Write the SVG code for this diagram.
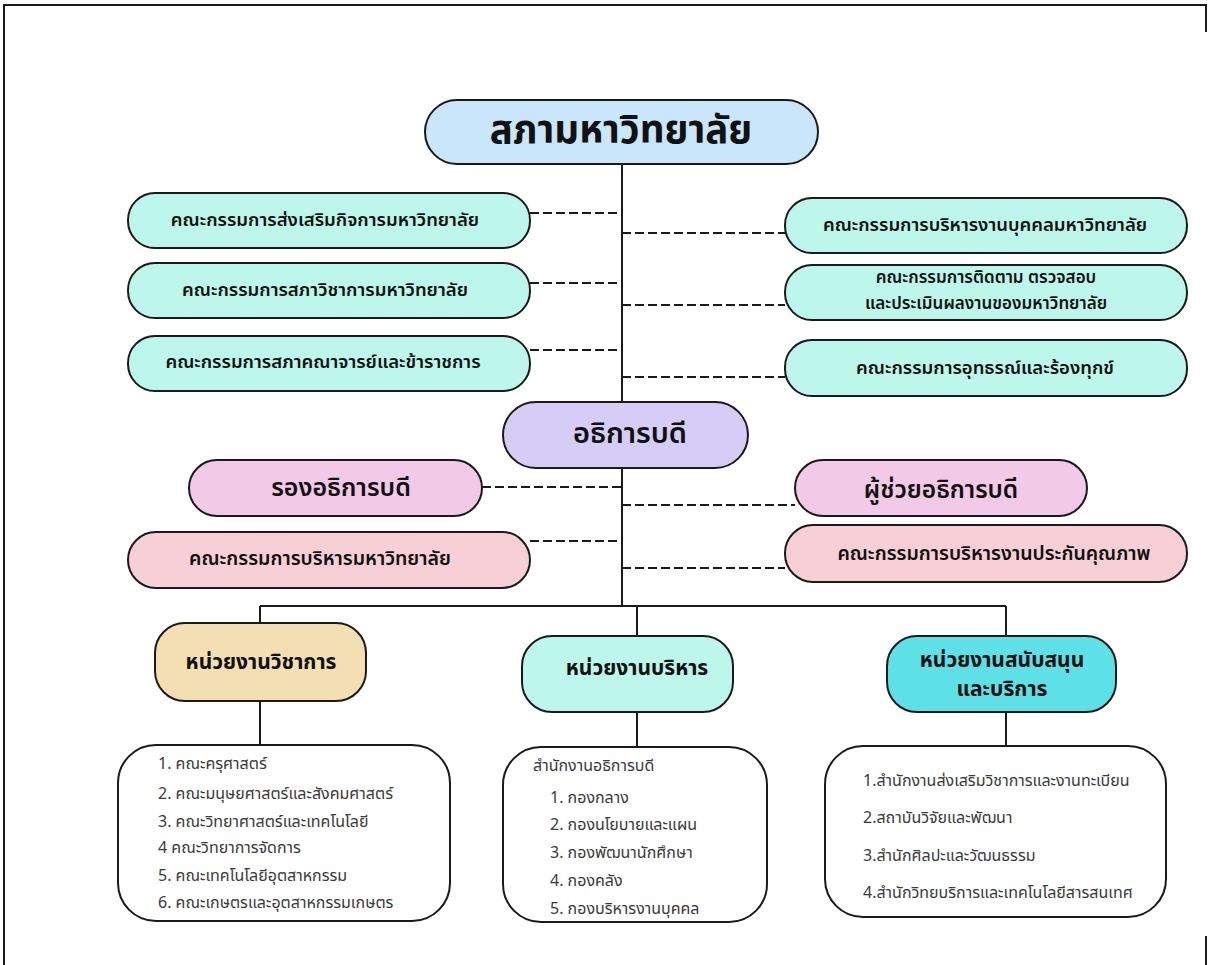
<svg xmlns="http://www.w3.org/2000/svg" width="1208" height="965" viewBox="0 0 1208 965">
<style>
.box{stroke:#1a1a1a;stroke-width:2}
.t{font-family:"Noto Sans Thai","Noto Sans","Loma","Garuda",sans-serif;fill:#111;text-anchor:middle;dominant-baseline:central}
.c{font-size:18.5px;font-weight:600}
.c2{font-size:19.5px;font-weight:600}
.c3{font-size:17px;font-weight:600}
.l{font-family:"Noto Sans Thai","Noto Sans","Loma",sans-serif;fill:#3a3a3a;font-size:16px}
.solid{stroke:#1a1a1a;stroke-width:2;fill:none}
.dash{stroke:#1a1a1a;stroke-width:2;fill:none;stroke-dasharray:9 4}
.mint{fill:#bdf6ea}
.u{font-size:21px;font-weight:700}
</style>
<rect width="1208" height="965" fill="#fff"/>
<g id="frame">
<path d="M4 965 V5 H1206 V32" class="solid" stroke-width="2.5"/>
<path d="M1206 936 V965" class="solid"/>
</g>
<g id="connectors">
<path class="solid" d="M622 164 V606 M260 606 H1006 M260 606 V623 M637 606 V636 M1006 606 V636 M260 701 V745 M637 712 V747 M1006 712 V746"/>
<path class="dash" d="M530 213 H622 M530 283 H622 M530 350 H622 M622 233 H785 M622 305 H785 M622 377 H785 M482 487 H622 M622 505 H795 M530 541 H622 M622 568 H785"/>
</g>
<g id="n-council"><rect class="box" x="425" y="100" width="393" height="64" rx="32" fill="#c9e6fb"/><text class="t" x="621" y="131" font-size="38.5" font-weight="700">สภามหาวิทยาลัย</text></g>
<g id="n-l1"><rect class="box mint" x="128" y="193" width="402" height="55" rx="27"/><text class="t c" x="325" y="220">คณะกรรมการส่งเสริมกิจการมหาวิทยาลัย</text></g>
<g id="n-l2"><rect class="box mint" x="128" y="263" width="402" height="55" rx="27"/><text class="t c" x="325" y="290">คณะกรรมการสภาวิชาการมหาวิทยาลัย</text></g>
<g id="n-l3"><rect class="box mint" x="128" y="336" width="402" height="55" rx="27"/><text class="t c" x="323" y="362">คณะกรรมการสภาคณาจารย์และข้าราชการ</text></g>
<g id="n-r1"><rect class="box mint" x="785" y="198" width="402" height="55" rx="27"/><text class="t c" x="985" y="225">คณะกรรมการบริหารงานบุคคลมหาวิทยาลัย</text></g>
<g id="n-r2"><rect class="box mint" x="785" y="265" width="402" height="55" rx="27"/><text class="t c3" x="986" y="278">คณะกรรมการติดตาม ตรวจสอบ</text><text class="t c3" x="986" y="304">และประเมินผลงานของมหาวิทยาลัย</text></g>
<g id="n-r3"><rect class="box mint" x="785" y="340" width="402" height="56" rx="27"/><text class="t c" x="985" y="368">คณะกรรมการอุทธรณ์และร้องทุกข์</text></g>
<g id="n-president"><rect class="box" x="503" y="402" width="245" height="66" rx="33" fill="#d5cdf5"/><text class="t" x="630" y="434" font-size="29" font-weight="600">อธิการบดี</text></g>
<g id="n-vp"><rect class="box" x="189" y="460" width="293" height="56" rx="28" fill="#f3c9e8"/><text class="t" x="341" y="488" font-size="25" font-weight="600">รองอธิการบดี</text></g>
<g id="n-ap"><rect class="box" x="795" y="460" width="292" height="56" rx="28" fill="#f3c9e8"/><text class="t" x="941" y="490" font-size="24.5" font-weight="600">ผู้ช่วยอธิการบดี</text></g>
<g id="n-exec"><rect class="box" x="128" y="532" width="402" height="56" rx="28" fill="#f6d0d6"/><text class="t c2" x="320" y="559">คณะกรรมการบริหารมหาวิทยาลัย</text></g>
<g id="n-qa"><rect class="box" x="785" y="525" width="402" height="57" rx="28" fill="#f6d0d6"/><text class="t c2" x="994" y="554">คณะกรรมการบริหารงานประกันคุณภาพ</text></g>
<g id="n-acad"><rect class="box" x="155" y="623" width="211" height="78" rx="30" fill="#f4dfb2"/><text class="t u" x="261" y="662">หน่วยงานวิชาการ</text></g>
<g id="n-admin"><rect class="box mint" x="522" y="636" width="211" height="76" rx="30"/><text class="t u" x="637" y="668">หน่วยงานบริหาร</text></g>
<g id="n-support"><rect class="box" x="887" y="636" width="229" height="76" rx="30" fill="#5de1e6"/><text class="t u" x="1002" y="660">หน่วยงานสนับสนุน</text><text class="t u" x="1002" y="689">และบริการ</text></g>
<g id="n-acad-list"><rect class="box" x="118" y="745" width="332" height="176" rx="38" fill="#fff"/>
<text class="l" x="158" y="769">1. คณะครุศาสตร์</text>
<text class="l" x="158" y="799">2. คณะมนุษยศาสตร์และสังคมศาสตร์</text>
<text class="l" x="158" y="827">3. คณะวิทยาศาสตร์และเทคโนโลยี</text>
<text class="l" x="158" y="853">4 คณะวิทยาการจัดการ</text>
<text class="l" x="158" y="881">5. คณะเทคโนโลยีอุตสาหกรรม</text>
<text class="l" x="158" y="908">6. คณะเกษตรและอุตสาหกรรมเกษตร</text>
</g>
<g id="n-admin-list"><rect class="box" x="503" y="747" width="264" height="175" rx="38" fill="#fff"/>
<text class="l" x="533" y="771">สำนักงานอธิการบดี</text>
<text class="l" x="550" y="803">1. กองกลาง</text>
<text class="l" x="550" y="830">2. กองนโยบายและแผน</text>
<text class="l" x="550" y="858">3. กองพัฒนานักศึกษา</text>
<text class="l" x="550" y="886">4. กองคลัง</text>
<text class="l" x="550" y="914">5. กองบริหารงานบุคคล</text>
</g>
<g id="n-support-list"><rect class="box" x="825" y="746" width="341" height="171" rx="38" fill="#fff"/>
<text class="l" x="863" y="786">1.สำนักงานส่งเสริมวิชาการและงานทะเบียน</text>
<text class="l" x="863" y="823">2.สถาบันวิจัยและพัฒนา</text>
<text class="l" x="863" y="861">3.สำนักศิลปะและวัฒนธรรม</text>
<text class="l" x="863" y="898">4.สำนักวิทยบริการและเทคโนโลยีสารสนเทศ</text>
</g>
</svg>
